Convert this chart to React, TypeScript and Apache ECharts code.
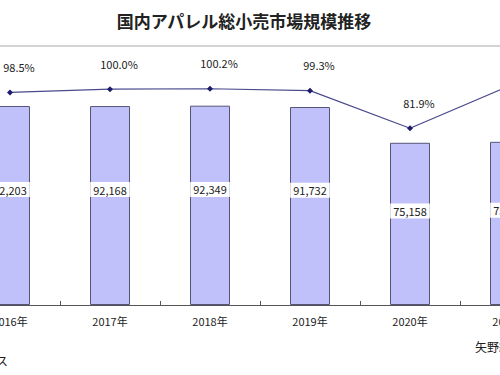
import React, { useEffect, useRef } from "react";
import * as echarts from "echarts";

const categories = ["2016年", "2017年", "2018年", "2019年", "2020年", "2021年"];
const marketSize = [92203, 92168, 92349, 91732, 75158, 75613];
const yoyRatio = [98.5, 100.0, 100.2, 99.3, 81.9, 101.6];

const titleText = "国内アパレル総小売市場規模推移";
const noteText = "注：小売金額ベース";
const sourceText = "矢野経済研究所調べ";

const FONT = "'Noto Sans CJK JP', 'Noto Sans', sans-serif";

export default function App() {
  const ref = useRef<HTMLDivElement>(null);

  useEffect(() => {
    if (!ref.current) return;
    const chart = echarts.init(ref.current, undefined, { renderer: "svg" });
    chart.setOption({
      animation: false,
      backgroundColor: "#ffffff",
      textStyle: { fontFamily: FONT },
      grid: { left: 20, right: 0, top: 46, bottom: 70, containLabel: false },
      graphic: [
        {
          type: "text",
          x: 304,
          y: 20,
          style: {
            text: titleText,
            fontSize: 17,
            fontWeight: "bold",
            fill: "#222",
            fontFamily: FONT,
            textAlign: "center",
            textVerticalAlign: "middle",
          },
        },
        {
          type: "line",
          shape: { x1: 0, y1: 46, x2: 620, y2: 46 },
          style: { stroke: "#a8a8a8", lineWidth: 1 },
        },
        {
          type: "text",
          x: 68,
          y: 360,
          style: {
            text: noteText,
            fontSize: 12,
            fill: "#222",
            fontFamily: FONT,
            textAlign: "right",
            textVerticalAlign: "middle",
          },
        },
        {
          type: "text",
          x: 535,
          y: 346,
          style: {
            text: sourceText,
            fontSize: 12,
            fill: "#222",
            fontFamily: FONT,
            textAlign: "left",
            textVerticalAlign: "middle",
          },
        },
      ],
      xAxis: {
        type: "category",
        data: categories,
        boundaryGap: true,
        axisLine: { lineStyle: { color: "#555", width: 1 } },
        axisTick: { show: true, inside: true, length: 4, lineStyle: { color: "#555" } },
        axisLabel: { color: "#222", fontSize: 11, margin: 10, fontFamily: FONT },
      },
      yAxis: [
        { type: "value", min: 0, max: 120000, show: false, splitLine: { show: false } },
        { type: "value", min: 0, max: 120, show: false, splitLine: { show: false } },
      ],
      series: [
        {
          type: "bar",
          yAxisIndex: 0,
          data: marketSize,
          barWidth: 40,
          itemStyle: { color: "#c0c0fb", borderColor: "#55557a", borderWidth: 1 },
          label: {
            show: true,
            position: ["50%", "42%"],
            align: "center",
            verticalAlign: "middle",
            formatter: (p: any) => Number(p.value).toLocaleString("en-US"),
            backgroundColor: "#ffffff",
            padding: [2, 3],
            color: "#222",
            fontSize: 11,
            fontFamily: FONT,
          },
        },
        {
          type: "line",
          yAxisIndex: 1,
          data: yoyRatio,
          symbol: "diamond",
          symbolSize: 6,
          lineStyle: { color: "#4a4a8c", width: 1.2 },
          itemStyle: { color: "#1c1c6a" },
          label: {
            show: true,
            position: "top",
            distance: 17,
            offset: [9, 0],
            formatter: (p: any) => Number(p.value).toFixed(1) + "%",
            color: "#222",
            fontSize: 11,
            fontFamily: FONT,
          },
        },
      ],
    });
    return () => chart.dispose();
  }, []);

  return (
    <div
      style={{
        position: "fixed",
        left: 0,
        top: 0,
        width: 500,
        height: 375,
        overflow: "hidden",
        background: "#fff",
      }}
    >
      <div
        ref={ref}
        style={{ position: "absolute", left: -60, top: 0, width: 620, height: 375 }}
      />
    </div>
  );
}
